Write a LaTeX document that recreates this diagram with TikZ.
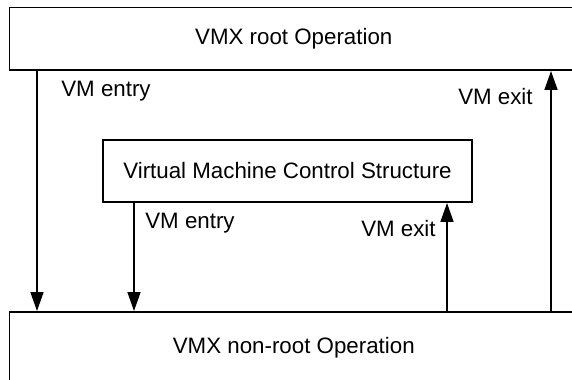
\documentclass[tikz,border=0pt]{standalone}
\usepackage{fontspec}
\setmainfont{Liberation Sans}
\usetikzlibrary{arrows.meta}

\tikzset{
  layerbox/.style={draw, line width=1.1pt, rectangle, inner sep=0pt,
    font=\fontsize{12.7}{15}\selectfont},
  transarrow/.style={-{Triangle[length=0.38cm, width=0.26cm]}, line width=0.9pt},
  translabel/.style={inner sep=0pt, font=\fontsize{12.7}{15}\selectfont}
}

\begin{document}
\begin{tikzpicture}
  \clip (0,0) rectangle (11.44,7.58);
  % Couches
  \node[layerbox, minimum width=11.37cm, minimum height=1.25cm] (root) at (5.875,6.805) {VMX root Operation};
  \node[layerbox, minimum width=11.37cm, minimum height=1.44cm] (nonroot) at (5.875,0.62) {VMX non-root Operation};
  \node[layerbox, minimum width=7.38cm, minimum height=1.24cm] (vmcs) at (5.75,4.16) {Virtual Machine Control Structure};
  % Abscisses des fleches
  \coordinate (xa) at (0.74,0);
  \coordinate (xb) at (2.68,0);
  \coordinate (xc) at (8.94,0);
  \coordinate (xd) at (11.02,0);
  % Transitions exterieures
  \draw[transarrow] (xa |- root.south) -- (xa |- nonroot.north);
  \draw[transarrow] (xd |- nonroot.north) -- (xd |- root.south);
  % Transitions par la VMCS
  \draw[transarrow] (xb |- vmcs.south) -- (xb |- nonroot.north);
  \draw[transarrow] (xc |- nonroot.north) -- (xc |- vmcs.south);
  % Etiquettes
  \node[translabel, anchor=west] (entryout) at (1.22,5.75) {VM entry};
  \node[translabel, anchor=east] (exitout) at (10.66,5.65) {VM exit};
  \node[translabel, anchor=west] (entryin) at (2.90,3.12) {VM entry};
  \node[translabel, anchor=east] (exitin) at (8.72,3.01) {VM exit};
\end{tikzpicture}
\end{document}
